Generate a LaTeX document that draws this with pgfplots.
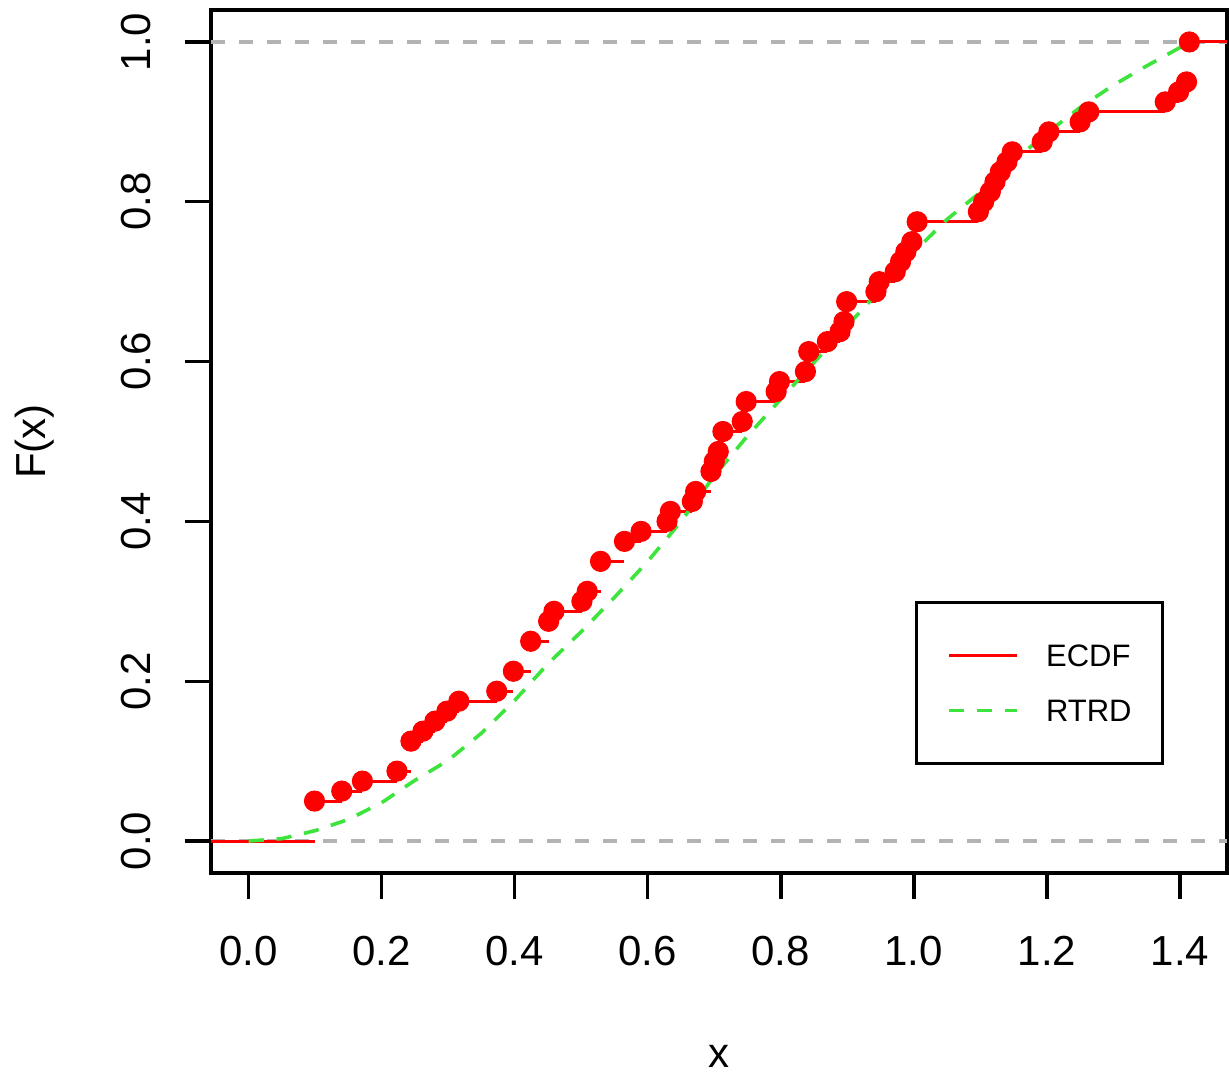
\documentclass[border=0pt]{standalone}
\usepackage{fontspec}
\setmainfont{Liberation Sans}
\usepackage{pgfplots}
\pgfplotsset{compat=1.18}
\usepackage{pgfplotstable}

\definecolor{ecdfred}{RGB}{255,0,0}
\definecolor{rtrdgreen}{RGB}{60,228,60}
\definecolor{refgray}{RGB}{179,179,179}

% empirical cdf: first and last rows only carry the flat ends to the box edges
\pgfplotstableread{
x y
-0.0566 0
0.099 0.05
0.140 0.0625
0.171 0.075
0.223 0.0875
0.244 0.125
0.262 0.1375
0.280 0.15
0.298 0.1625
0.316 0.175
0.373 0.1875
0.398 0.2125
0.424 0.25
0.451 0.275
0.459 0.2875
0.501 0.3
0.509 0.3125
0.529 0.35
0.565 0.375
0.590 0.3875
0.629 0.4
0.634 0.4125
0.667 0.425
0.672 0.4375
0.695 0.4625
0.700 0.475
0.706 0.4875
0.713 0.5125
0.742 0.525
0.748 0.55
0.793 0.5625
0.798 0.575
0.837 0.5875
0.842 0.6125
0.870 0.625
0.889 0.6375
0.895 0.65
0.899 0.675
0.943 0.6875
0.948 0.7
0.972 0.7125
0.980 0.725
0.988 0.7375
0.997 0.75
1.005 0.775
1.097 0.7875
1.105 0.8
1.115 0.8125
1.122 0.825
1.130 0.8375
1.140 0.85
1.148 0.8625
1.193 0.875
1.203 0.8875
1.250 0.9
1.263 0.9125
1.378 0.925
1.398 0.9375
1.410 0.95
1.4142 1.0
1.4708 1.0
}\ecdf

% fitted RTRD cdf
\pgfplotstableread{
x y
0 0
0.05 0.003
0.10 0.013
0.15 0.027
0.20 0.048
0.25 0.076
0.30 0.101
0.35 0.135
0.40 0.176
0.45 0.222
0.50 0.262
0.55 0.305
0.60 0.350
0.65 0.400
0.70 0.457
0.75 0.507
0.80 0.553
0.85 0.599
0.90 0.645
0.95 0.690
1.00 0.737
1.05 0.778
1.10 0.812
1.15 0.851
1.20 0.886
1.25 0.918
1.30 0.946
1.35 0.970
1.40 0.993
1.4142 1.0
}\rtrd

\begin{document}
\begin{tikzpicture}
\begin{axis}[
    scale only axis,
    width=254pt, height=215.75pt,
    xmin=-0.0566, xmax=1.4708,
    ymin=-0.04, ymax=1.04,
    axis line style={line width=0.85pt},
    tick align=outside, tick pos=left,
    major tick length=6.5pt,
    every tick/.style={black, line width=0.85pt},
    xtick={0,0.2,0.4,0.6,0.8,1.0,1.2,1.4},
    ytick={0,0.2,0.4,0.6,0.8,1.0},
    minor tick num=0,
    /pgf/number format/.cd, fixed, fixed zerofill, precision=1, assume math mode=true,
    /pgfplots/.cd,
    ticklabel style={font=\fontsize{10.5}{12}\selectfont},
    xticklabel style={anchor=center, yshift=-13pt},
    yticklabel style={anchor=center, xshift=-12.25pt, rotate=90},
    xlabel={x}, ylabel={F(x)},
    every axis x label/.style={at={(axis description cs:0.5,0)}, anchor=center, yshift=-45.75pt, font=\fontsize{10.5}{12}\selectfont},
    every axis y label/.style={at={(axis description cs:0,0.5)}, xshift=-44pt, rotate=90, anchor=center, font=\fontsize{10.5}{12}\selectfont},
    legend style={at={(0.6929,0.3155)}, anchor=north west, draw=black, line width=0.75pt,
        fill=white, inner xsep=7.75pt, inner ysep=10.5pt, row sep=8.2pt, column sep=6.75pt,
        font=\fontsize{7.75}{9}\selectfont,
        nodes={inner sep=0pt, text height=5.55pt, text depth=0pt}},
    legend cell align=left,
    legend image code/.code={\draw[#1] (0pt,0pt) -- (17pt,0pt);},
]
\addlegendimage{ecdfred, line width=0.75pt}
\addlegendentry{ECDF}
\addlegendimage{rtrdgreen, line width=0.9pt, dash pattern=on 3.8pt off 3.2pt}
\addlegendentry{RTRD}

\addplot[refgray, line width=0.8pt, dash pattern=on 3.6pt off 3.4pt, forget plot]
    coordinates {(-0.0566,0) (1.4708,0)};
\addplot[refgray, line width=0.8pt, dash pattern=on 3.6pt off 3.4pt, forget plot]
    coordinates {(-0.0566,1) (1.4708,1)};

\addplot[ecdfred, line width=0.75pt, jump mark left, forget plot] table {\ecdf};
\addplot[only marks, mark=*, mark size=2.5pt, restrict x to domain=0:1.45,
    mark options={fill=ecdfred, draw=ecdfred, line width=0.3pt}, forget plot] table {\ecdf};

\addplot[rtrdgreen, line width=0.9pt, dash pattern=on 3.8pt off 3.2pt, forget plot] table {\rtrd};
\end{axis}
\pgfresetboundingbox
\path[use as bounding box] ([shift={(-52.75pt,-51.25pt)}]current axis.south west)
    rectangle ([shift={(0.5pt,2.5pt)}]current axis.north east);
\end{tikzpicture}
\end{document}
